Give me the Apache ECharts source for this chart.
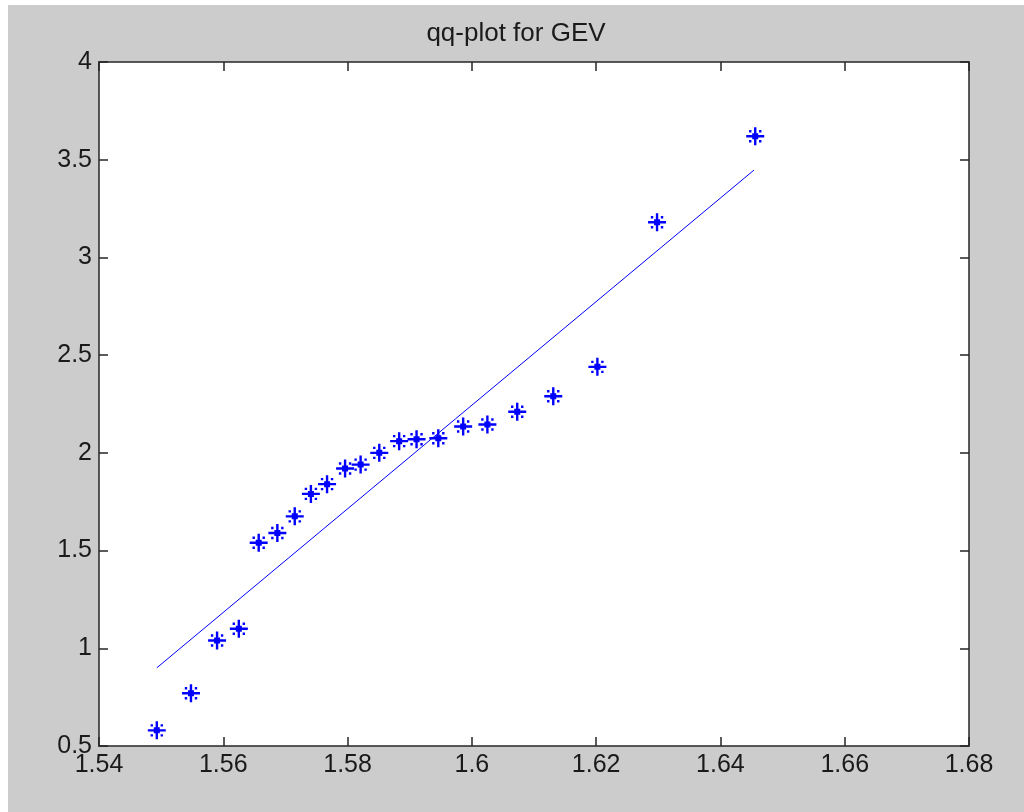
<!DOCTYPE html>
<html>
<head>
<meta charset="utf-8">
<title>qq-plot for GEV</title>
<script src="https://cdn.jsdelivr.net/npm/echarts@6/dist/echarts.min.js"></script>
<style>
  html, body { margin: 0; padding: 0; background: #ffffff; }
  #grafico-qq { position: absolute; left: 8px; top: 5px; width: 1016px; height: 807px; background: #cccccc; }
</style>
</head>
<body>
<div id="grafico-qq"></div>
<script>
// Cuantiles del modelo (eje x) y de los datos (eje y)
const cuantilesModelo = [1.5493, 1.5548, 1.5590, 1.5625, 1.5657, 1.5687, 1.5715, 1.5741,
  1.5767, 1.5796, 1.5821, 1.5851, 1.5883, 1.5911, 1.5946, 1.5986, 1.6025, 1.6073,
  1.6131, 1.6202, 1.6298, 1.6456];
const cuantilesDatos = [0.58, 0.77, 1.04, 1.10, 1.54, 1.59, 1.675, 1.79,
  1.84, 1.92, 1.94, 2.00, 2.06, 2.07, 2.075, 2.135, 2.145, 2.21,
  2.29, 2.44, 3.18, 3.62];

// Recta de referencia (extremos)
const rectaX = [1.5493, 1.6454];
const rectaY = [0.90, 3.447];

// Marcas de los ejes
const ticksX = [1.54, 1.56, 1.58, 1.60, 1.62, 1.64, 1.66, 1.68];
const ticksY = [0.5, 1, 1.5, 2, 2.5, 3, 3.5, 4];

const colorAzul = '#0000ff';
const colorTexto = '#1a1a1a';
const fuente = "'Liberation Sans', Arial, sans-serif";

// Asterisco estilo MATLAB: cruz + puntos diagonales + centro
const simboloAsterisco = 'path://M7.8 0h2.4v18h-2.4zM0 7.8h18v2.4h-18zM2.8 2.8h2.4v2.4h-2.4zM12.8 2.8h2.4v2.4h-2.4zM2.8 12.8h2.4v2.4h-2.4zM12.8 12.8h2.4v2.4h-2.4zM6 6h6v6h-6z';

const puntos = cuantilesModelo.map((x, i) => [x, cuantilesDatos[i]]);
const recta = rectaX.map((x, i) => [x, rectaY[i]]);

const fmt = v => String(+v.toFixed(2));

function ejeX(pos, conEtiquetas) {
  return {
    type: 'value',
    position: pos,
    min: ticksX[0],
    max: ticksX[ticksX.length - 1],
    interval: 0.02,
    axisLine: { show: true, onZero: false, lineStyle: { color: '#262626', width: 1.5 } },
    axisTick: { show: true, inside: true, length: 9, lineStyle: { color: '#262626', width: 1.5 } },
    axisLabel: {
      show: conEtiquetas, margin: 7, color: colorTexto, fontSize: 25, fontFamily: fuente,
      formatter: fmt
    },
    splitLine: { show: false }
  };
}

function ejeY(pos, conEtiquetas) {
  return {
    type: 'value',
    position: pos,
    min: ticksY[0],
    max: ticksY[ticksY.length - 1],
    interval: 0.5,
    axisLine: { show: true, onZero: false, lineStyle: { color: '#262626', width: 1.5 } },
    axisTick: { show: true, inside: true, length: 9, lineStyle: { color: '#262626', width: 1.5 } },
    axisLabel: {
      show: conEtiquetas, margin: 7, color: colorTexto, fontSize: 25, fontFamily: fuente,
      formatter: fmt
    },
    splitLine: { show: false }
  };
}

const dom = document.getElementById('grafico-qq');
const chart = echarts.init(dom);

const option = {
  animation: false,
  backgroundColor: '#cccccc',
  title: {
    text: 'qq-plot for GEV',
    left: 'center',
    top: 11,
    textStyle: { color: colorTexto, fontSize: 26, fontWeight: 'normal', fontFamily: fuente }
  },
  grid: {
    left: 91, top: 57, right: 55, bottom: 66,
    show: true, backgroundColor: '#ffffff', borderWidth: 0
  },
  xAxis: [ejeX('bottom', true), ejeX('top', false)],
  yAxis: [ejeY('left', true), ejeY('right', false)],
  series: [
    {
      name: 'recta',
      type: 'line',
      data: recta,
      symbol: 'none',
      lineStyle: { color: colorAzul, width: 1 },
      z: 2
    },
    {
      name: 'cuantiles',
      type: 'scatter',
      data: puntos,
      symbol: simboloAsterisco,
      symbolSize: 18,
      itemStyle: { color: colorAzul, opacity: 1 },
      z: 3
    }
  ]
};

chart.setOption(option);
</script>
</body>
</html>
